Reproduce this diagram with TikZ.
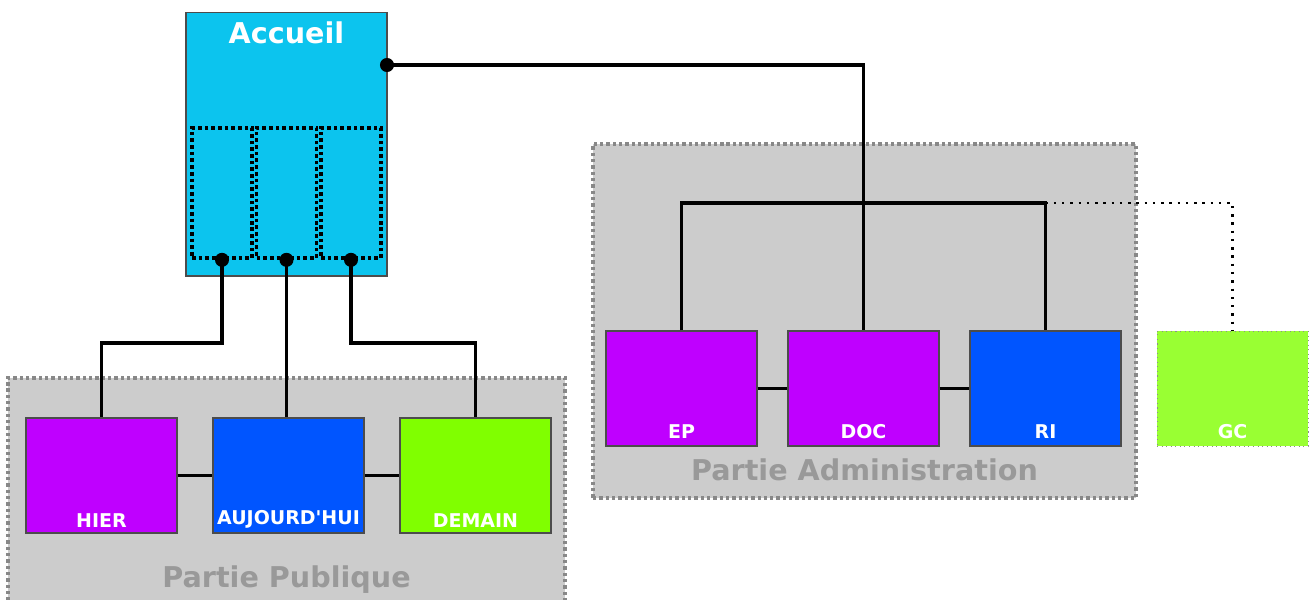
\documentclass[tikz,border=0pt]{standalone}
\usepackage{fontspec}
\defaultfontfeatures[\rmfamily]{}
\setmainfont{DejaVu Sans}
\usepackage{tikz}
\usetikzlibrary{positioning}
\definecolor{cyanaccueil}{RGB}{12,196,238}
\definecolor{violet}{RGB}{191,0,255}
\definecolor{bleu}{RGB}{0,85,255}
\definecolor{vert}{RGB}{128,255,0}
\definecolor{vertclair}{RGB}{153,255,51}
\definecolor{fondgris}{RGB}{204,204,204}
\definecolor{bordgris}{RGB}{136,136,136}
\definecolor{titregris}{RGB}{153,153,153}
\begin{document}
\begin{tikzpicture}[x=0.02cm, y=0.02cm]
\tikzstyle{every node}+=[inner sep=0pt]
\tikzstyle{groupe}=[rectangle, fill=fondgris, draw=bordgris, line width=1.9pt, dash pattern=on 1.9pt off 1.7pt]
\tikzstyle{boite}=[rectangle, draw=black!70, line width=0.6pt, minimum width=3.02cm, minimum height=2.3cm]
\tikzstyle{cadre}=[rectangle, draw=black, line width=2.1pt, dash pattern=on 2.1pt off 1.7pt, minimum width=1.2cm, minimum height=2.6cm]
\tikzstyle{etiquette}=[anchor=base, text=white, font=\fontsize{10.8}{12}\selectfont\bfseries]
\tikzstyle{titre}=[anchor=base, text=titregris, font=\fontsize{16.3}{18}\selectfont\bfseries]
\tikzstyle{lien}=[black, line width=1.8pt]
\tikzstyle{pointille}=[black, line width=1.4pt, dash pattern=on 1.4pt off 3.3pt]
\useasboundingbox (0,0) rectangle (1309,-599);
\node [groupe, minimum width=11.14cm, minimum height=4.84cm] (publique) at (286.5,-499) {};
\node [titre] (titrepublique) at (286.5,-587) {Partie Publique};
\node [groupe, minimum width=10.86cm, minimum height=7.08cm] (admin) at (864.5,-321) {};
\node [titre] (titreadmin) at (864.5,-480) {Partie Administration};
\node [boite, fill=cyanaccueil, minimum width=4.02cm, minimum height=5.28cm,
  label={[titre, text=white, yshift=-0.64cm]north:Accueil}] (accueil) at (286.5,-144) {};
\node [cadre] (cadreA) at (222,-193) {};
\node [cadre] (cadreB) at (286.5,-193) {};
\node [cadre] (cadreC) at (351,-193) {};
\node [boite, fill=violet, label={[etiquette, yshift=0.12cm]south:HIER}] (hier) at (101.5,-475.5) {};
\node [boite, fill=bleu, label={[etiquette, yshift=0.18cm]south:AUJOURD'HUI}] (aujourdhui) at (288.5,-475.5) {};
\node [boite, fill=vert, label={[etiquette, yshift=0.12cm]south:DEMAIN}] (demain) at (475.5,-475.5) {};
\node [boite, fill=violet, label={[etiquette, yshift=0.16cm]south:EP}] (ep) at (681.5,-388.5) {};
\node [boite, fill=violet, label={[etiquette, yshift=0.16cm]south:DOC}] (doc) at (863.5,-388.5) {};
\node [boite, fill=bleu, label={[etiquette, yshift=0.16cm]south:RI}] (ri) at (1045.5,-388.5) {};
\node [boite, fill=vertclair, draw=black!45, dotted, line width=0.5pt, label={[etiquette, yshift=0.16cm]south:GC}] (gc) at (1232.5,-388.5) {};
\coordinate (sortie) at (387,-65);
\coordinate (bus) at (863.5,-203);
\coordinate (palier) at (286.5,-343);
\draw [lien] (sortie) -| (doc.north);
\draw [lien] (ep.north) |- (bus) -| (ri.north);
\draw [pointille] (ri.north |- bus) -| (gc.north);
\draw [lien] (cadreA.south) -- (cadreA.south |- palier) -| (hier.north);
\draw [lien] (cadreB.south) -- (cadreB.south |- aujourdhui.north);
\draw [lien] (cadreC.south) -- (cadreC.south |- palier) -| (demain.north);
\draw [lien] (hier.east) -- (aujourdhui.west);
\draw [lien] (aujourdhui.east) -- (demain.west);
\draw [lien] (ep.east) -- (doc.west);
\draw [lien] (doc.east) -- (ri.west);
\fill [black] (sortie) circle (4pt);
\fill [black] (cadreA.south) circle (4pt);
\fill [black] (cadreB.south) circle (4pt);
\fill [black] (cadreC.south) circle (4pt);
\end{tikzpicture}
\end{document}
